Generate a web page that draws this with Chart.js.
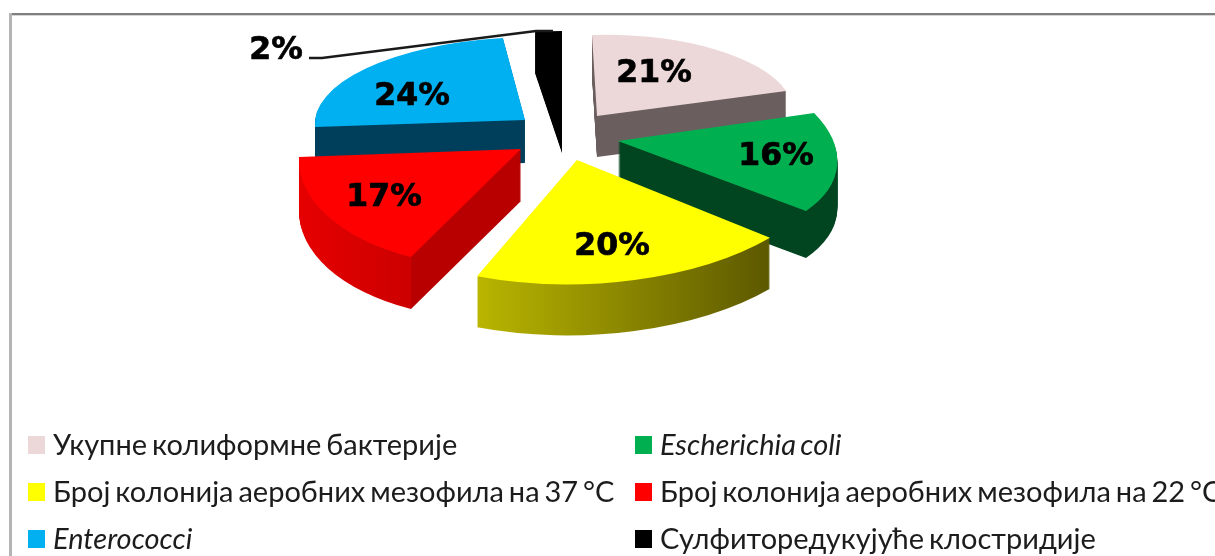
<!DOCTYPE html>
<html>
<head>
<meta charset="utf-8">
<style>
html,body{margin:0;padding:0;background:#fff;overflow:hidden}
#wrap{position:relative;width:1215px;height:556px}
canvas{display:block;filter:blur(0.6px)}
</style>
<script src="https://cdn.jsdelivr.net/npm/chart.js@4"></script>
</head>
<body>
<div id="wrap"><canvas id="c" width="1215" height="556"></canvas></div>
<script>
const categories = ["Укупне колиформне бактерије","Escherichia coli","Број колонија аеробних мезофила на 37 °C","Број колонија аеробних мезофила на 22 °C","Enterococci","Сулфиторедукујуће клостридије"];
const shares = [21,16,20,17,24,2];
const topColors = ["#ecd8d8","#00b050","#ffff00","#ff0000","#00b0f0","#000000"];
const italicNames = [false,true,false,false,true,false];

// 3D look: how far each slice is pulled out, and how the flat circle is tilted for it
const explode = [[37,-29],[58,-4],[17,15],[-39,4],[-35,-25],[2,-33]];
const tilt = [[196.5,-5,5,81],[214.4,-2,46.3,104.4],[255.5,-9.8,9.8,124],[221.4,-0.5,-17.4,119.2],[210.1,-1.8,-4.3,82.8],[216,0,0,81]];
const depth = [41,47,51,52,43,41];
const paintOrder = [4,5,0,1,3,2];
const sideShades = [
  [597,786,[[0,"#6b5e5e"],[1,"#6b5e5e"]]],
  [618,838,[[0,"#00451f"],[1,"#00451f"]]],
  [478,770,[[0,"#b9b500"],[1,"#5c5800"]]],
  [299,522,[[0,"#e60000"],[0.5,"#cc0000"],[0.505,"#b80000"],[1,"#b80000"]]],
  [315,525,[[0,"#003f5c"],[1,"#003f5c"]]],
  [535,562,[[0,"#000000"],[1,"#000000"]]]
];
const labelAnchors = [[654,74],[776,157],[612,247],[384,198],[412,97],[276,51]];
const legendCells = [[28,445],[635,445],[28,492],[635,492],[28,539],[635,539]];

const BASE_R = 100;

const pie3d = {
  id:'pie3d',
  beforeDatasetDraw(chart){
    const ctx = chart.ctx, arcs = chart.getDatasetMeta(0).data;
    paintOrder.forEach(i=>{
      const a = arcs[i], [ex,ey] = explode[i], [A,B,C,D] = tilt[i];
      const place = (dy)=>{
        ctx.translate(a.x+ex, a.y+ey+dy);
        ctx.transform(A/BASE_R,B/BASE_R,C/BASE_R,D/BASE_R,0,0);
        ctx.translate(-a.x,-a.y);
      };
      const [x0,x1,stops] = sideShades[i];
      const g = ctx.createLinearGradient(x0,0,x1,0);
      stops.forEach(s=>g.addColorStop(s[0],s[1]));
      for(let d=depth[i]; d>=1; d--){
        ctx.save();
        place(d);
        ctx.beginPath();
        ctx.moveTo(a.x,a.y);
        ctx.arc(a.x,a.y,a.outerRadius,a.startAngle,a.endAngle);
        ctx.closePath();
        ctx.restore();
        ctx.fillStyle = g;
        ctx.fill();
      }
      ctx.save();
      place(0);
      a.draw(ctx);
      ctx.restore();
    });
    return false;
  },
  afterDraw(chart){
    const ctx = chart.ctx;
    ctx.save();
    // frame
    ctx.fillStyle='#7f7f7f'; ctx.fillRect(10,13,1205,2);
    ctx.fillStyle='#d6d6d6'; ctx.fillRect(10,15,1205,1);
    ctx.fillStyle='#b4b4b4'; ctx.fillRect(9,13,3,543);
    // leader line
    ctx.strokeStyle='#1a1a1a'; ctx.lineWidth=2.6;
    ctx.beginPath(); ctx.moveTo(309,58); ctx.lineTo(322,58); ctx.lineTo(536,31); ctx.lineTo(553,31); ctx.stroke();
    // value labels
    ctx.fillStyle='#000'; ctx.strokeStyle='#000'; ctx.lineWidth=0.7;
    ctx.font='bold 31.5px "DejaVu Sans"';
    ctx.textAlign='center'; ctx.textBaseline='middle';
    shares.forEach((v,i)=>{
      ctx.fillText(v+'%',labelAnchors[i][0],labelAnchors[i][1]);
      ctx.strokeText(v+'%',labelAnchors[i][0],labelAnchors[i][1]);
    });
    // legend
    ctx.textAlign='left';
    ctx.wordSpacing='-2.5px';
    categories.forEach((name,i)=>{
      const [x,y]=legendCells[i];
      ctx.fillStyle=topColors[i];
      ctx.fillRect(x,y-9,17,18);
      ctx.fillStyle='#1c1c1c';
      ctx.font=(italicNames[i]?'italic ':'')+'29px Lato, "Open Sans"';
      ctx.fillText(name,x+25,y+1);
    });
    ctx.restore();
  }
};

new Chart(document.getElementById('c'),{
  type:'pie',
  data:{labels:categories,datasets:[{data:shares,backgroundColor:topColors,borderWidth:0}]},
  options:{
    responsive:false,animation:false,
    radius:BASE_R,rotation:0,
    layout:{padding:{left:0,right:95,top:0,bottom:266}},
    plugins:{legend:{display:false},tooltip:{enabled:false}}
  },
  plugins:[pie3d]
});
</script>
</body>
</html>
